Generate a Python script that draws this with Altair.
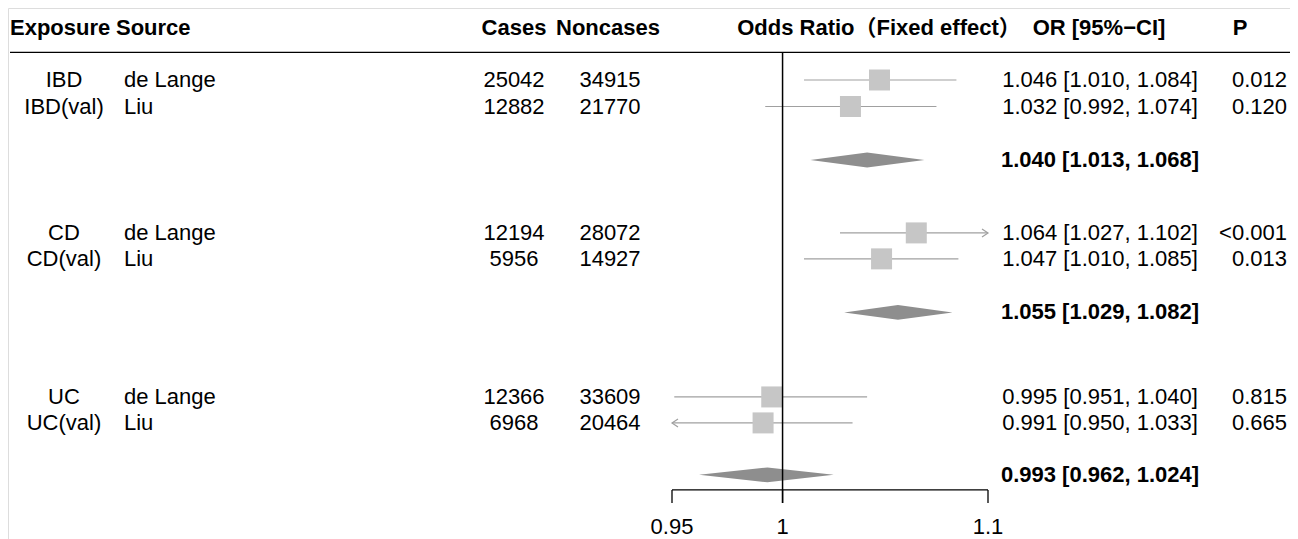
import altair as alt
import pandas as pd

# ---------------- data ----------------
exposure = ["IBD", "IBD(val)", "CD", "CD(val)", "UC", "UC(val)"]
source = ["de Lange", "Liu", "de Lange", "Liu", "de Lange", "Liu"]
cases = [25042, 12882, 12194, 5956, 12366, 6968]
noncases = [34915, 21770, 28072, 14927, 33609, 20464]
or_est = [1.046, 1.032, 1.064, 1.047, 0.995, 0.991]
or_lo = [1.010, 0.992, 1.027, 1.010, 0.951, 0.950]
or_hi = [1.084, 1.074, 1.102, 1.085, 1.040, 1.033]
p_text = ["0.012", "0.120", "<0.001", "0.013", "0.815", "0.665"]

pooled_est = [1.040, 1.055, 0.993]
pooled_lo = [1.013, 1.029, 0.962]
pooled_hi = [1.068, 1.082, 1.024]

ticks = [0.95, 1.0, 1.1]
tick_labels = ["0.95", "1", "1.1"]

# ---------------- layout ----------------
W, H = 1282, 531
ROW0, ROW_H = 72, 26.5
study_rows = [0.0, 1.0, 5.77, 6.75, 11.96, 12.94]
pooled_rows = [3.02, 8.77, 14.9]
HEADER_ROW, HLINE_ROW = -1.96, -1.04
AXIS_ROW, TICK_END_ROW, LABEL_ROW = 15.47, 15.96, 16.86
X_MIN, X_MAX = 0.95, 1.1
DIAMOND_H = 0.28

FONT = "Liberation Sans, Arial, Noto Sans CJK SC"
FS = 22

yscale = alt.Scale(domain=[0, 15], range=[ROW0, ROW0 + 15 * ROW_H], zero=False, nice=False)
xscale = alt.Scale(type="log", domain=[X_MIN, X_MAX], range=[664, 980], nice=False)

def Y(field):
    return alt.Y(field, type="quantitative", scale=yscale, axis=None)

def X(field):
    return alt.X(field, type="quantitative", scale=xscale, axis=None)

# ---------------- tables ----------------
studies = pd.DataFrame({
    "exposure": exposure, "source": source,
    "cases": [str(c) for c in cases], "noncases": [str(n) for n in noncases],
    "est": or_est, "lo": or_lo, "hi": or_hi, "p": p_text, "row": study_rows,
})
studies["lo_c"] = studies["lo"].clip(lower=X_MIN)
studies["hi_c"] = studies["hi"].clip(upper=X_MAX)
studies["ci"] = [f"{e:.3f} [{l:.3f}, {h:.3f}]" for e, l, h in zip(or_est, or_lo, or_hi)]

pooled = pd.DataFrame({"est": pooled_est, "lo": pooled_lo, "hi": pooled_hi, "row": pooled_rows})
pooled["ci"] = [f"{e:.3f} [{l:.3f}, {h:.3f}]" for e, l, h in zip(pooled_est, pooled_lo, pooled_hi)]

dia_rows = []
for i, (e, l, h, r) in enumerate(zip(pooled_est, pooled_lo, pooled_hi, pooled_rows)):
    dia_rows.append({"g": i, "x": l, "yt": r, "yb": r})
    dia_rows.append({"g": i, "x": e, "yt": r - DIAMOND_H, "yb": r + DIAMOND_H})
    dia_rows.append({"g": i, "x": h, "yt": r, "yb": r})
diamonds = pd.DataFrame(dia_rows)

right_arrows = studies[studies["hi"] >= X_MAX][["hi_c", "row"]]
left_arrows = studies[studies["lo"] <= X_MIN][["lo_c", "row"]]

ref = pd.DataFrame({"x": [1.0], "y1": [HLINE_ROW], "y2": [TICK_END_ROW]})
axis_line = pd.DataFrame({"x1": [X_MIN], "x2": [X_MAX], "y": [AXIS_ROW]})
tick_df = pd.DataFrame({"x": ticks, "lab": tick_labels, "y1": AXIS_ROW, "y2": TICK_END_ROW, "yl": LABEL_ROW})
hline = pd.DataFrame({"y": [HLINE_ROW]})
hdr = pd.DataFrame({"y": [HEADER_ROW]})

# ---------------- marks ----------------
GRAY_LINE = "#a0a0a0"

ci = alt.Chart(studies).mark_rule(color=GRAY_LINE, strokeWidth=1.2).encode(
    x=X("lo_c"), x2="hi_c", y=Y("row"))

squares = alt.Chart(studies).mark_square(size=441, color="#c6c6c6", opacity=1).encode(
    x=X("est"), y=Y("row"))

r_arrow = alt.Chart(right_arrows).mark_point(
    shape="M-1.5,-1L0,0L-1.5,1", filled=False, stroke=GRAY_LINE, strokeWidth=1.2, size=64, opacity=1
).encode(x=X("hi_c"), y=Y("row"))

l_arrow = alt.Chart(left_arrows).mark_point(
    shape="M1.5,-1L0,0L1.5,1", filled=False, stroke=GRAY_LINE, strokeWidth=1.2, size=64, opacity=1
).encode(x=X("lo_c"), y=Y("row"))

dia = alt.Chart(diamonds).mark_area(color="#8e8e8e", orient="vertical", opacity=1).encode(
    x=X("x"), y=Y("yt"), y2="yb", detail="g:N")

ref_line = alt.Chart(ref).mark_rule(color="#000", strokeWidth=1.5).encode(
    x=X("x"), y=Y("y1"), y2="y2")

ax_line = alt.Chart(axis_line).mark_rule(color="#000", strokeWidth=1.3).encode(
    x=X("x1"), x2="x2", y=Y("y"))

ax_ticks = alt.Chart(tick_df).mark_rule(color="#000", strokeWidth=1.3).encode(
    x=X("x"), y=Y("y1"), y2="y2")

ax_labels = alt.Chart(tick_df).mark_text(font=FONT, fontSize=FS, color="#000", baseline="middle").encode(
    x=X("x"), y=Y("yl"), text="lab:N")

header_line = alt.Chart(hline).mark_rule(color="#000", strokeWidth=1.3).encode(
    x=alt.value(2), x2=alt.value(1285), y=Y("y"))

def col(df, field, px, align, bold=False):
    return alt.Chart(df).mark_text(
        align=align, baseline="middle", font=FONT, fontSize=FS,
        fontWeight="bold" if bold else "normal", color="#000"
    ).encode(x=alt.value(px), y=Y("row"), text=f"{field}:N")

def header(label, px, align="center"):
    return alt.Chart(hdr).mark_text(
        align=align, baseline="middle", font=FONT, fontSize=FS, fontWeight="bold", color="#000", text=label
    ).encode(x=alt.value(px), y=Y("y"))

texts = [
    col(studies, "exposure", 56, "center"),
    col(studies, "source", 116, "left"),
    col(studies, "cases", 506, "center"),
    col(studies, "noncases", 602, "center"),
    col(studies, "ci", 1092, "center"),
    col(studies, "p", 1279, "right"),
    col(pooled, "ci", 1092, "center", bold=True),
    header("Exposure", 2, "left"),
    header("Source", 108, "left"),
    header("Cases", 506),
    header("Noncases", 600),
    header("Odds Ratio（Fixed effect）", 871),
    header("OR [95%−CI]", 1091),
    header("P", 1232),
]

chart = alt.layer(
    ci, squares, r_arrow, l_arrow, dia, ref_line, ax_line, ax_ticks, ax_labels, header_line, *texts
).properties(
    width=W, height=H, padding=0, autosize=alt.AutoSizeParams(type="none")
).configure_view(strokeWidth=0).configure(background="white")

chart.save("out.html", embed_options={"renderer": "svg", "actions": False})
